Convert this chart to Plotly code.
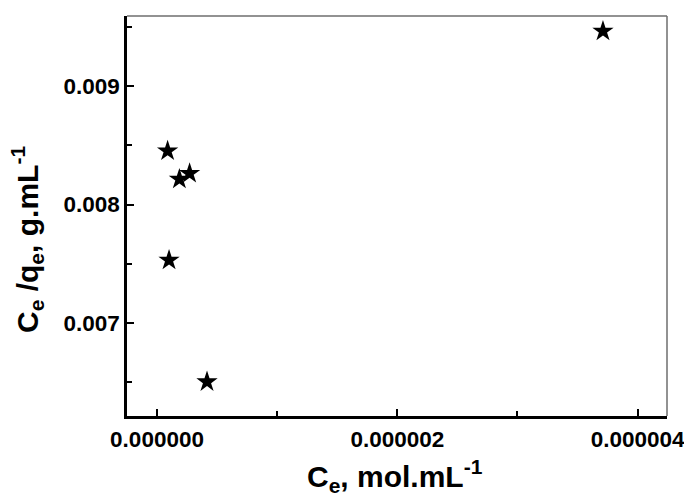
import plotly.graph_objects as go

# Data
ce = [0.088e-6, 0.100e-6, 0.186e-6, 0.271e-6, 0.416e-6, 3.712e-6]
ce_qe = [0.008453, 0.007530, 0.008214, 0.008262, 0.006501, 0.009465]

x_title = "C<sub>e</sub>, mol.mL<sup>-1</sup>"
y_title = "C<sub>e</sub> /q<sub>e</sub>, g.mL<sup>-1</sup>"

FONT = "Arial, Liberation Sans, sans-serif"

fig = go.Figure()
fig.add_trace(go.Scatter(
    x=ce, y=ce_qe, mode="markers",
    marker=dict(symbol="star", size=16, color="black", line=dict(width=0)),
    showlegend=False,
))

fig.update_layout(
    width=684, height=504,
    margin=dict(l=127, r=17, t=16, b=88, autoexpand=False),
    paper_bgcolor="white", plot_bgcolor="white",
    font=dict(family=FONT, color="black"),
    xaxis=dict(
        range=[-0.25e-6, 4.245e-6],
        tickvals=[0, 2e-6, 4e-6], tickformat=".6f",
        ticks="inside", ticklen=7, tickwidth=2, tickcolor="black",
        minor=dict(tickvals=[1e-6, 3e-6], ticks="inside", ticklen=5, tickwidth=2, tickcolor="black"),
        showline=True, linecolor="black", linewidth=2.5,
        showgrid=False, zeroline=False,
        tickfont=dict(family=FONT, size=22.5, weight="bold"),
        ticklabelstandoff=1,
        ticklabeloverflow="allow",
        automargin=False,
    ),
    yaxis=dict(
        range=[0.006212, 0.009594],
        tickvals=[0.007, 0.008, 0.009], tickformat=".3f",
        ticks="inside", ticklen=7, tickwidth=2, tickcolor="black",
        minor=dict(tickvals=[0.0065, 0.0075, 0.0085, 0.0095], ticks="inside", ticklen=5, tickwidth=2, tickcolor="black"),
        showline=True, linecolor="black", linewidth=2.5,
        showgrid=False, zeroline=False,
        tickfont=dict(family=FONT, size=22.5, weight="bold"),
        ticklabelstandoff=0,
        automargin=False,
    ),
    shapes=[
        dict(type="line", xref="paper", yref="paper", x0=0, x1=1, y0=1, y1=1,
             line=dict(color="#6e6e6e", width=1.5)),
        dict(type="line", xref="paper", yref="paper", x0=1, x1=1, y0=0, y1=1,
             line=dict(color="#6e6e6e", width=1.5)),
    ],
    annotations=[
        dict(text=x_title, xref="paper", yref="paper", x=0.497, y=0, yshift=-60,
             xanchor="center", yanchor="middle", showarrow=False,
             font=dict(family=FONT, size=30, weight="bold")),
        dict(text=y_title, xref="paper", yref="paper", x=0, xshift=-100, y=0.44,
             xanchor="center", yanchor="middle", textangle=-90, showarrow=False,
             font=dict(family=FONT, size=30, weight="bold")),
    ],
)

fig.write_html("out.html")
